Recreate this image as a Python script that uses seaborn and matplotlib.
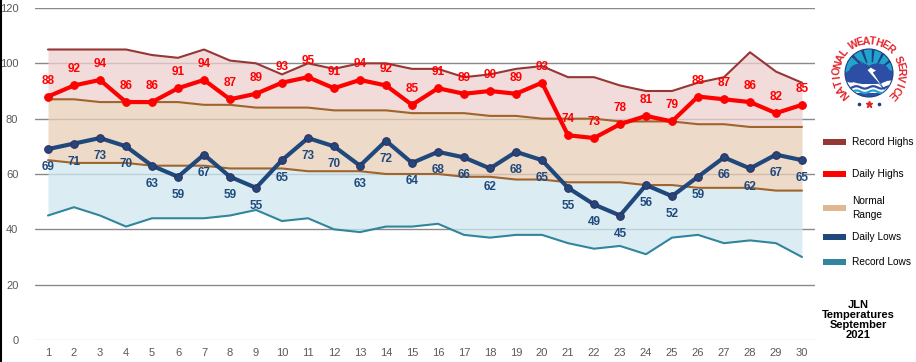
import numpy as np
import matplotlib.pyplot as plt
import seaborn as sns
from matplotlib.patches import Circle, Wedge, Ellipse, Polygon, Rectangle
from matplotlib.lines import Line2D

# Excel-like look: white background, horizontal grid only
sns.set_theme(style="white")
plt.rcParams.update({
    'font.family': ['Liberation Sans', 'DejaVu Sans'],
})

DAYS = list(range(1, 31))
RECORD_HIGHS = [105, 105, 105, 105, 103, 102, 105, 101, 100, 96,
                100, 98, 100, 100, 98, 98, 95, 96, 98, 99,
                95, 95, 92, 90, 90, 93, 95, 104, 97, 93]
DAILY_HIGHS = [88, 92, 94, 86, 86, 91, 94, 87, 89, 93,
               95, 91, 94, 92, 85, 91, 89, 90, 89, 93,
               74, 73, 78, 81, 79, 88, 87, 86, 82, 85]
NORMAL_HIGHS = [87, 87, 86, 86, 86, 86, 85, 85, 84, 84,
                84, 83, 83, 83, 82, 82, 82, 81, 81, 80,
                80, 80, 79, 79, 79, 78, 78, 77, 77, 77]
NORMAL_LOWS = [65, 64, 64, 64, 63, 63, 63, 62, 62, 62,
               61, 61, 61, 60, 60, 60, 59, 59, 58, 58,
               57, 57, 57, 56, 56, 55, 55, 55, 54, 54]
DAILY_LOWS = [69, 71, 73, 70, 63, 59, 67, 59, 55, 65,
              73, 70, 63, 72, 64, 68, 66, 62, 68, 65,
              55, 49, 45, 56, 52, 59, 66, 62, 67, 65]
RECORD_LOWS = [45, 48, 45, 41, 44, 44, 44, 45, 47, 43,
               44, 40, 39, 41, 41, 42, 38, 37, 38, 38,
               35, 33, 34, 31, 37, 38, 35, 36, 35, 30]
Y_TICKS = [0, 20, 40, 60, 80, 100, 120]

LEGEND = [
    ("Record Highs", "#953735"),
    ("Daily Highs", "#ff0000"),
    ("Normal\nRange", "#dfb891"),
    ("Daily Lows", "#1f497d"),
    ("Record Lows", "#31859c"),
]
TITLE = "JLN\nTemperatures\nSeptember\n2021"


def draw_logo(fig):
    lax = fig.add_axes([830.6 / 916, (362 - 111.4) / 362, 76.8 / 916, 76.8 / 362])
    lax.set_xlim(-1.6, 1.6)
    lax.set_ylim(-1.6, 1.6)
    lax.set_aspect("equal")
    lax.axis("off")

    clip = Circle((0, 0), 1.0, transform=lax.transData)
    lax.add_patch(Circle((0, 0), 1.0, facecolor="white", edgecolor="none"))
    # sky with rays
    lax.add_patch(Wedge((0, 0), 1.0, 0, 180, facecolor="#22a3cc", edgecolor="none"))
    for i, a in enumerate(range(35, 150, 12)):
        if i % 2 == 0:
            w = Wedge((0.1, -0.1), 1.2, a, a + 6, facecolor="#1d3f86", edgecolor="none")
            w.set_clip_path(clip)
            lax.add_patch(w)
    lax.add_patch(Circle((0.1, -0.1), 0.55, facecolor="#22a3cc", edgecolor="none"))
    # cloud
    for (cx, cy, w, h) in [(-0.35, 0.0, 1.0, 0.8), (0.35, 0.05, 1.0, 0.7),
                           (0.0, -0.2, 1.7, 0.55), (-0.75, -0.15, 0.6, 0.5),
                           (0.8, -0.1, 0.6, 0.45)]:
        e = Ellipse((cx, cy), w, h, facecolor="#2c4ea5", edgecolor="none")
        e.set_clip_path(clip)
        lax.add_patch(e)
    # lower part: white with waves
    low = Rectangle((-1, -1), 2, 0.55, facecolor="white", edgecolor="none")
    low.set_clip_path(clip)
    lax.add_patch(low)
    xs = np.linspace(-1, 1, 60)
    for base, col in [(-0.6, "#2c4ea5"), (-0.78, "#22a3cc")]:
        ln, = lax.plot(xs, base + 0.05 * np.sin(xs * 9), color=col, lw=1.6)
        ln.set_clip_path(clip)
    bottom = Rectangle((-1, -1.0), 2, 0.15, facecolor="#2c4ea5", edgecolor="none")
    bottom.set_clip_path(clip)
    lax.add_patch(bottom)
    # lightning bolt
    bolt = Polygon([(-0.85, 0.75), (0.05, 0.22), (-0.08, 0.12), (0.65, -0.7),
                    (0.18, 0.02), (0.32, 0.1), (-0.85, 0.75)],
                   facecolor="white", edgecolor="#1d3f86", lw=0.4)
    bolt.set_clip_path(clip)
    lax.add_patch(bolt)
    lax.add_patch(Circle((0, 0), 1.0, facecolor="none", edgecolor="#1d3f86", lw=0.8))

    # ring text
    text = "NATIONAL WEATHER SERVICE"
    angles = np.linspace(222, -44, len(text))
    for ch, ang in zip(text, angles):
        r = 1.32
        x = r * np.cos(np.radians(ang))
        y = r * np.sin(np.radians(ang))
        lax.text(x, y, ch, rotation=ang - 90, ha="center", va="center",
                 fontsize=7.6, fontweight="bold", color="#e3242b",
                 rotation_mode="anchor")
    lax.plot([-0.4, 0.4], [-1.3, -1.3], "o", color="#1d3f86", ms=1.6)
    lax.plot([0], [-1.3], "*", color="#e3242b", ms=4.5)


def main():
    fig = plt.figure(figsize=(9.16, 3.62), dpi=100)
    ax = fig.add_axes([35 / 916, 22 / 362, 780 / 916, 332 / 362])

    # shaded bands
    ax.fill_between(DAYS, NORMAL_HIGHS, RECORD_HIGHS, color="#eed0cf", alpha=0.75, lw=0, zorder=1)
    ax.fill_between(DAYS, NORMAL_LOWS, NORMAL_HIGHS, color="#e8ceb6", alpha=0.75, lw=0, zorder=1)
    ax.fill_between(DAYS, RECORD_LOWS, NORMAL_LOWS, color="#cfe8ef", alpha=0.75, lw=0, zorder=1)

    sns.lineplot(x=DAYS, y=RECORD_HIGHS, color="#953735", lw=1.5, ax=ax, zorder=3)
    sns.lineplot(x=DAYS, y=NORMAL_HIGHS, color="#a0642c", lw=1.5, ax=ax, zorder=3)
    sns.lineplot(x=DAYS, y=NORMAL_LOWS, color="#a0642c", lw=1.5, ax=ax, zorder=3)
    sns.lineplot(x=DAYS, y=RECORD_LOWS, color="#31859c", lw=1.5, ax=ax, zorder=3)
    sns.lineplot(x=DAYS, y=DAILY_HIGHS, color="#ff0000", lw=3.0, marker="o",
                 markersize=5.5, markeredgecolor="#ff0000", ax=ax, zorder=4)
    sns.lineplot(x=DAYS, y=DAILY_LOWS, color="#1f497d", lw=3.0, marker="o",
                 markersize=5.5, markeredgecolor="#3a2a5c", ax=ax, zorder=4)

    for d, v in zip(DAYS, DAILY_HIGHS):
        ax.annotate(str(v), (d, v), xytext=(0, 11.5), textcoords="offset points",
                    ha="center", va="center", fontsize=8.5, fontweight="bold",
                    color="#ff0000", zorder=5)
    for d, v in zip(DAYS, DAILY_LOWS):
        ax.annotate(str(v), (d, v), xytext=(0, -13), textcoords="offset points",
                    ha="center", va="center", fontsize=8.5, fontweight="bold",
                    color="#1f497d", zorder=5)

    ax.set_xlim(0.5, 30.5)
    ax.set_ylim(0, 120)
    ax.set_xticks(DAYS)
    ax.set_yticks(Y_TICKS)
    ax.set_axisbelow(True)
    ax.yaxis.grid(True, color="#8a8a8a", lw=1.0)
    ax.xaxis.grid(False)
    ax.get_ygridlines()[0].set_color("#d9d9d9")
    for s in ax.spines.values():
        s.set_visible(False)
    ax.tick_params(axis="both", length=0, labelsize=8, labelcolor="#595959")
    ax.tick_params(axis="y", pad=12)
    ax.tick_params(axis="x", pad=6)
    ax.set_xlabel("")
    ax.set_ylabel("")

    # legend drawn by hand to mimic the Excel layout
    ys = [141.7, 174, 207.7, 236.7, 261.7]
    for (label, color), y in zip(LEGEND, ys):
        fig.add_artist(Rectangle((823 / 916, (362 - y - 3.2) / 362), 23 / 916, 6.4 / 362,
                                 facecolor=color, edgecolor="none"))
        fig.text(852 / 916, (362 - y) / 362, label, ha="left", va="center",
                 fontsize=7.3, color="black", linespacing=1.45)

    fig.text(858 / 916, (362 - 320) / 362, TITLE, ha="center", va="center",
             fontsize=8, fontweight="bold", color="black", linespacing=1.0)

    draw_logo(fig)

    # thin dark border on the left edge
    fig.add_artist(Line2D([0.001, 0.001], [0, 1], color="black", lw=1.5))

    fig.savefig("out.png", dpi=100)
    plt.close(fig)


if __name__ == "__main__":
    main()
